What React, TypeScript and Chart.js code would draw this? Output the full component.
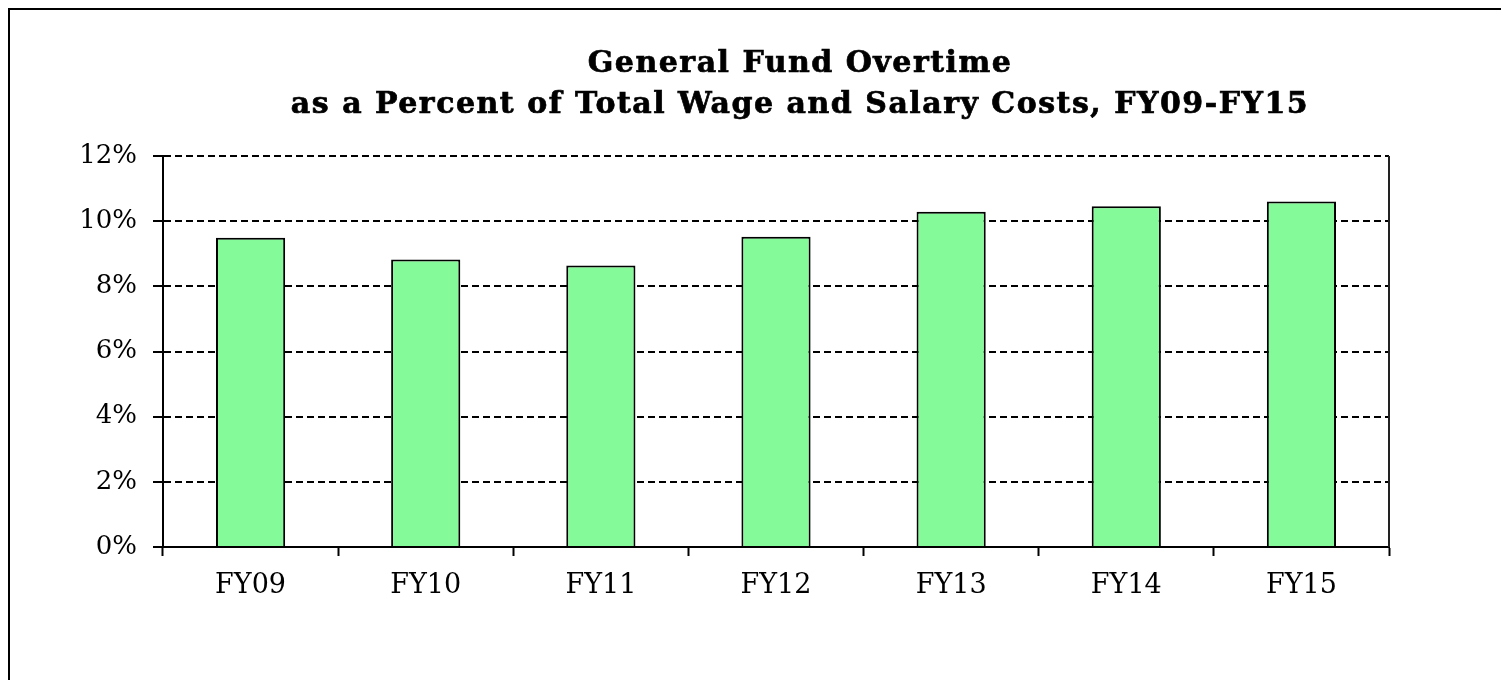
import React, { useEffect, useRef } from "react";
import { Chart, registerables } from "chart.js";

Chart.register(...registerables);

const titleLines = [
  "General Fund Overtime",
  "as a Percent of Total Wage and Salary Costs, FY09-FY15",
];
const categories = ["FY09", "FY10", "FY11", "FY12", "FY13", "FY14", "FY15"];
const overtimePct = [9.49, 8.82, 8.64, 9.52, 10.29, 10.46, 10.6];
const yMax = 12;
const yStep = 2;

const FONT = "'DejaVu Serif', serif";

const chartDecor = {
  id: "chartDecor",
  afterDatasetsDraw(chart: any) {
    const { ctx, chartArea } = chart;
    ctx.save();
    ctx.strokeStyle = "#222";
    ctx.lineWidth = 2;
    ctx.beginPath();
    ctx.moveTo(chartArea.right, chartArea.top);
    ctx.lineTo(chartArea.right, chartArea.bottom);
    ctx.stroke();
    ctx.restore();
  },
  afterDraw(chart: any) {
    const { ctx } = chart;
    ctx.save();
    ctx.fillStyle = "#000";
    ctx.strokeStyle = "#000";
    ctx.lineWidth = 0.7;
    ctx.font = `bold 30px ${FONT}`;
    (ctx as any).letterSpacing = "1.5px";
    ctx.textAlign = "center";
    ctx.textBaseline = "middle";
    const cx = chart.width / 2;
    const ys = [54, 95];
    titleLines.forEach((t, i) => {
      ctx.fillText(t, cx, ys[i]);
      ctx.strokeText(t, cx, ys[i]);
    });
    ctx.restore();
  },
};

export default function App() {
  const ref = useRef<HTMLCanvasElement | null>(null);
  useEffect(() => {
    if (!ref.current) return;
    const chart = new Chart(ref.current, {
      type: "bar",
      data: {
        labels: categories,
        datasets: [
          {
            data: overtimePct,
            backgroundColor: "#85FA98",
            borderColor: "#000",
            borderWidth: 2,
            barPercentage: 0.395,
            categoryPercentage: 1,
          },
        ],
      },
      plugins: [chartDecor],
      options: {
        responsive: false,
        animation: false,
        layout: { padding: { top: 146, left: 0, right: 201, bottom: 0 } },
        plugins: {
          legend: { display: false },
          tooltip: { enabled: false },
          title: { display: false },
        },
        scales: {
          x: {
            grid: {
              offset: true,
              drawOnChartArea: false,
              drawTicks: true,
              tickLength: 9,
              tickColor: "#000",
              tickWidth: 2,
            },
            border: { color: "#000", width: 2 },
            ticks: {
              color: "#000",
              font: { family: FONT, size: 27 },
              padding: 14,
            },
            afterFit: (s: any) => {
              s.height = 133;
            },
          },
          y: {
            min: 0,
            max: yMax,
            ticks: {
              stepSize: yStep,
              color: "#000",
              font: { family: FONT, size: 26 },
              padding: 16,
              callback: (v: any) => `${v}%`,
            },
            grid: {
              color: "#000",
              lineWidth: 2,
              drawTicks: true,
              tickLength: 10,
              tickColor: "#000",
              tickWidth: 2,
              tickBorderDash: [],
            },
            border: { color: "#000", width: 2, dash: [7, 4] },
            afterFit: (s: any) => {
              s.width = 153;
            },
          },
        },
      },
    });
    return () => chart.destroy();
  }, []);
  return (
    <div
      style={{
        width: 1501,
        height: 672,
        overflow: "hidden",
        boxSizing: "border-box",
        borderLeft: "2px solid #000",
        borderTop: "2px solid #000",
        background: "#fff",
      }}
    >
      <canvas ref={ref} width={1580} height={670} style={{ display: "block" }} />
    </div>
  );
}
